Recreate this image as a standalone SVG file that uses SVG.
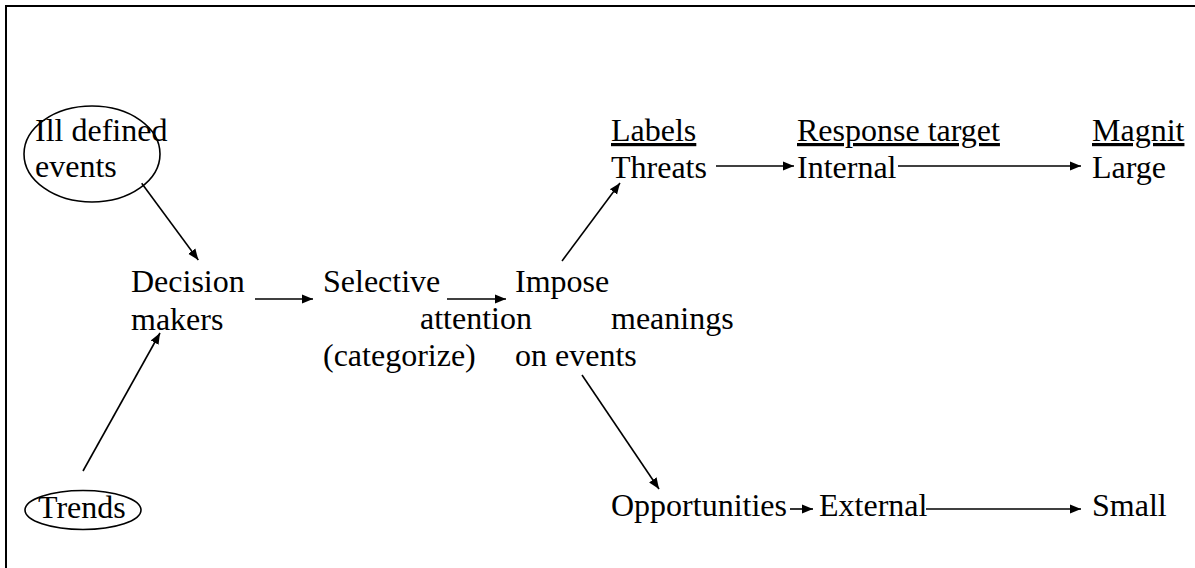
<svg xmlns="http://www.w3.org/2000/svg" width="1195" height="568" viewBox="0 0 1195 568">
  <style>
    text { font-family: "Liberation Serif", "Times New Roman", serif; font-size: 32px; fill: #000; }
    .u { text-decoration: underline; }
    .shape { fill: none; stroke: #000; stroke-width: 1.6; }
    .conn { fill: none; stroke: #000; stroke-width: 1.6; marker-end: url(#arrow); }
    .frame { fill: none; stroke: #000; stroke-width: 2; }
  </style>
  <defs>
    <marker id="arrow" markerUnits="userSpaceOnUse" markerWidth="12" markerHeight="12" viewBox="0 0 12 12" refX="11" refY="6" orient="auto">
      <path d="M0,1.5 L11,6 L0,10.5 Z" fill="#000"/>
    </marker>
  </defs>
  <rect width="1195" height="568" fill="#fff"/>
  <g id="frame">
    <path class="frame" d="M6,568 L6,6 L1195,6"/>
  </g>

  <g id="ill-defined-events">
    <ellipse class="shape" cx="92" cy="154" rx="68" ry="48"/>
    <text x="35" y="140.5">Ill defined</text>
    <text x="35" y="177">events</text>
  </g>
  <g id="trends">
    <ellipse class="shape" cx="83" cy="510" rx="58" ry="19.5"/>
    <text x="38" y="518">Trends</text>
  </g>
  <g id="decision-makers">
    <text x="131" y="292">Decision</text>
    <text x="131" y="330">makers</text>
  </g>
  <g id="selective-attention">
    <text x="323" y="292">Selective</text>
    <text x="420" y="329">attention</text>
    <text x="323" y="366">(categorize)</text>
  </g>
  <g id="impose-meanings">
    <text x="515" y="292">Impose</text>
    <text x="611" y="329">meanings</text>
    <text x="515" y="366">on events</text>
  </g>
  <g id="threats">
    <text class="u" x="611" y="141">Labels</text>
    <text x="611" y="178">Threats</text>
  </g>
  <g id="internal">
    <text class="u" x="797" y="141">Response target</text>
    <text x="797" y="178">Internal</text>
  </g>
  <g id="large">
    <text class="u" x="1092" y="141">Magnit</text>
    <text x="1092" y="178">Large</text>
  </g>
  <g id="opportunities">
    <text x="611" y="516">Opportunities</text>
  </g>
  <g id="external">
    <text x="819" y="516">External</text>
  </g>
  <g id="small">
    <text x="1092" y="516">Small</text>
  </g>

  <g id="connectors">
    <line class="conn" x1="141.7" y1="183.3" x2="198.3" y2="260"/>
    <line class="conn" x1="83" y1="471" x2="160" y2="333"/>
    <line class="conn" x1="255" y1="299" x2="313" y2="299"/>
    <line class="conn" x1="447" y1="299" x2="506" y2="299"/>
    <line class="conn" x1="562" y1="261" x2="620" y2="183"/>
    <line class="conn" x1="582" y1="375" x2="659" y2="489"/>
    <line class="conn" x1="716" y1="166" x2="794" y2="166"/>
    <line class="conn" x1="898" y1="166" x2="1081" y2="166"/>
    <line class="conn" x1="790" y1="509" x2="813" y2="509"/>
    <line class="conn" x1="926" y1="509" x2="1081" y2="509"/>
  </g>
</svg>
